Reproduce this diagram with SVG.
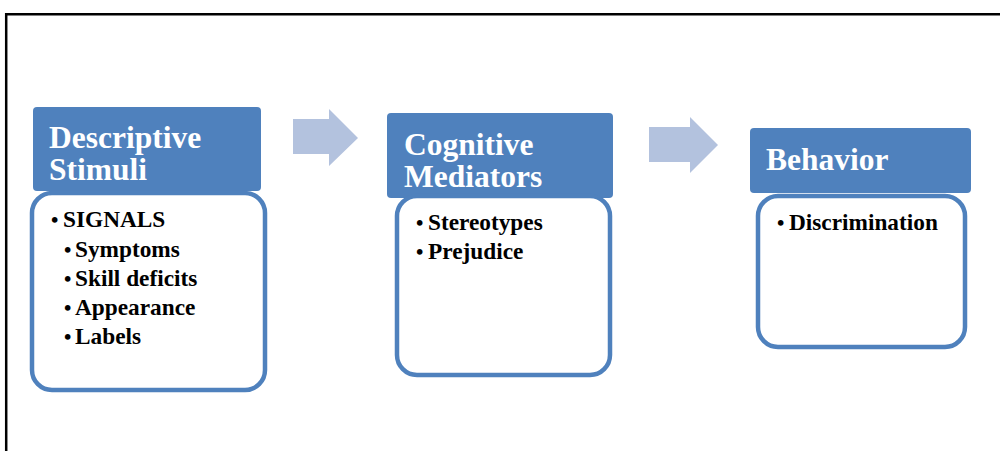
<svg xmlns="http://www.w3.org/2000/svg" width="1000" height="451" viewBox="0 0 1000 451">
<style>
.hdr{fill:#4F81BD}
.body{fill:#fff;stroke:#4F81BD;stroke-width:4.5}
.ht{font-family:"Liberation Serif",serif;font-weight:bold;font-size:31.5px;fill:#fff}
.bt{font-family:"Liberation Serif",serif;font-weight:bold;font-size:23.3px;fill:#000}
.bl{font-family:"Liberation Serif",serif;font-weight:bold;font-size:21px;fill:#000}
.arr{fill:#B3C2DE}
</style>
<rect x="0" y="0" width="1000" height="451" fill="#fff"/>
<path d="M6.2 451 V14.2 H1000" fill="none" stroke="#000" stroke-width="2.5"/>
<g id="connectors">
<polygon class="arr" points="293,119 329,119 329,109 358,138 329,166 329,154 293,154"/>
<polygon class="arr" points="649,127 690,127 690,117 718,145 690,173 690,162 649,162"/>
</g>
<g id="node1">
<rect class="hdr" x="33" y="107" width="228" height="84" rx="4"/>
<rect class="body" x="32" y="193" width="233" height="197" rx="20"/>
<text class="ht" x="49" y="148">Descriptive</text>
<text class="ht" x="49" y="180">Stimuli</text>
<text class="bl" x="51" y="227">•</text><text class="bt" x="63" y="227">SIGNALS</text>
<text class="bl" x="64" y="256.5">•</text><text class="bt" x="75" y="256.5">Symptoms</text>
<text class="bl" x="64" y="286">•</text><text class="bt" x="75" y="286">Skill deficits</text>
<text class="bl" x="64" y="315">•</text><text class="bt" x="75" y="315">Appearance</text>
<text class="bl" x="64" y="344">•</text><text class="bt" x="75" y="344">Labels</text>
</g>
<g id="node2">
<rect class="hdr" x="387" y="113" width="226" height="85" rx="4"/>
<rect class="body" x="397" y="196" width="213" height="179" rx="20"/>
<text class="ht" x="404" y="155">Cognitive</text>
<text class="ht" x="404" y="187">Mediators</text>
<text class="bl" x="416" y="230">•</text><text class="bt" x="428" y="230">Stereotypes</text>
<text class="bl" x="416" y="259">•</text><text class="bt" x="428" y="259">Prejudice</text>
</g>
<g id="node3">
<rect class="hdr" x="750" y="128" width="221" height="65" rx="4"/>
<rect class="body" x="758" y="196" width="207" height="151" rx="20"/>
<text class="ht" x="766" y="170">Behavior</text>
<text class="bl" x="777" y="230">•</text><text class="bt" x="789" y="230">Discrimination</text>
</g>
</svg>
